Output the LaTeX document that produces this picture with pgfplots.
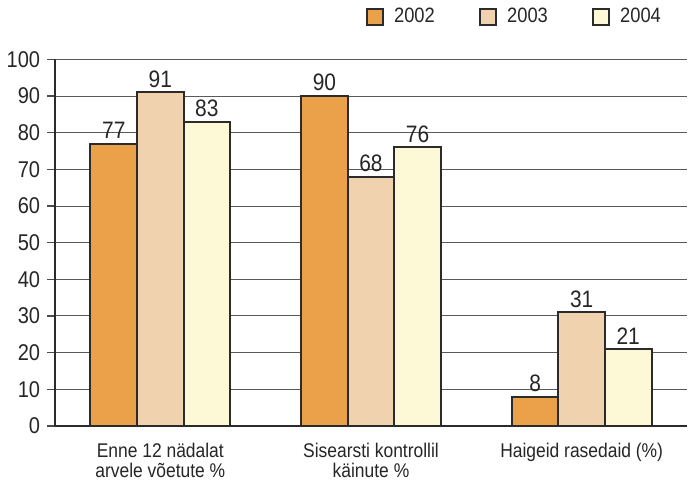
\documentclass[border=0pt]{standalone}
\usepackage{pgfplots}
\pgfplotsset{compat=1.18}
\usepackage{fontspec}
\setmainfont{Liberation Sans}[FakeStretch=0.88]
\definecolor{c2002}{HTML}{EBA04A}
\definecolor{c2003}{HTML}{F0D3AE}
\definecolor{c2004}{HTML}{FDF8D5}
\definecolor{edge}{HTML}{2B2B2B}
\begin{document}
\begin{tikzpicture}
\begin{axis}[
  scale only axis, width=319pt, height=185pt,
  xmin=-0.5, xmax=2.5, ymin=0, ymax=100,
  axis x line*=bottom, axis y line*=left,
  axis line style={line width=1pt, color=edge, -},
  /pgf/number format/assume math mode=true,
  ytick={0,10,...,100},
  ymajorgrids, grid style={line width=0.5pt, color=black!65},
  tick align=outside,
  major tick length=4pt, minor tick length=4pt,
  tick style={line width=0.6pt, color=black!70},
  xtick={0,1,2},
  xtick style={draw=none},
  minor xtick={0.5,1.5},
  xticklabels={{Enne 12 nädalat\\arvele võetute \%},{Sisearsti kontrollil\\käinute \%},{Haigeid rasedaid (\%)}},
  xticklabel style={align=center, font=\fontsize{10}{10}\selectfont, text=black!85, yshift=-1pt},
  yticklabel style={font=\fontsize{11.5}{12}\selectfont, text=black!85},
  ybar, bar width=0.221,
  every axis plot/.append style={draw=edge, line width=1pt},
  nodes near coords,
  nodes near coords style={font=\fontsize{12}{13}\selectfont, text=black!85, inner sep=2pt},
  legend style={at={(0.975,1.07)}, anchor=south east, draw=none, fill=none,
    legend columns=3, font=\fontsize{10.5}{11}\selectfont, text=black!85,
    /tikz/every even column/.append style={column sep=20.5pt}},
  legend image code/.code={\draw[#1, line width=1pt, draw=edge] (0pt,-4pt) rectangle (8pt,4pt); \path[draw=none, fill=none] (0pt,0pt) -- (11.5pt,0pt);},
]
\addplot[fill=c2002, bar shift=-0.221] coordinates {(0,77) (1,90) (2,8)};
\addplot[fill=c2003, bar shift=0] coordinates {(0,91) (1,68) (2,31)};
\addplot[fill=c2004, bar shift=0.221] coordinates {(0,83) (1,76) (2,21)};
\legend{2002,2003,2004}
\end{axis}
\end{tikzpicture}
\end{document}
